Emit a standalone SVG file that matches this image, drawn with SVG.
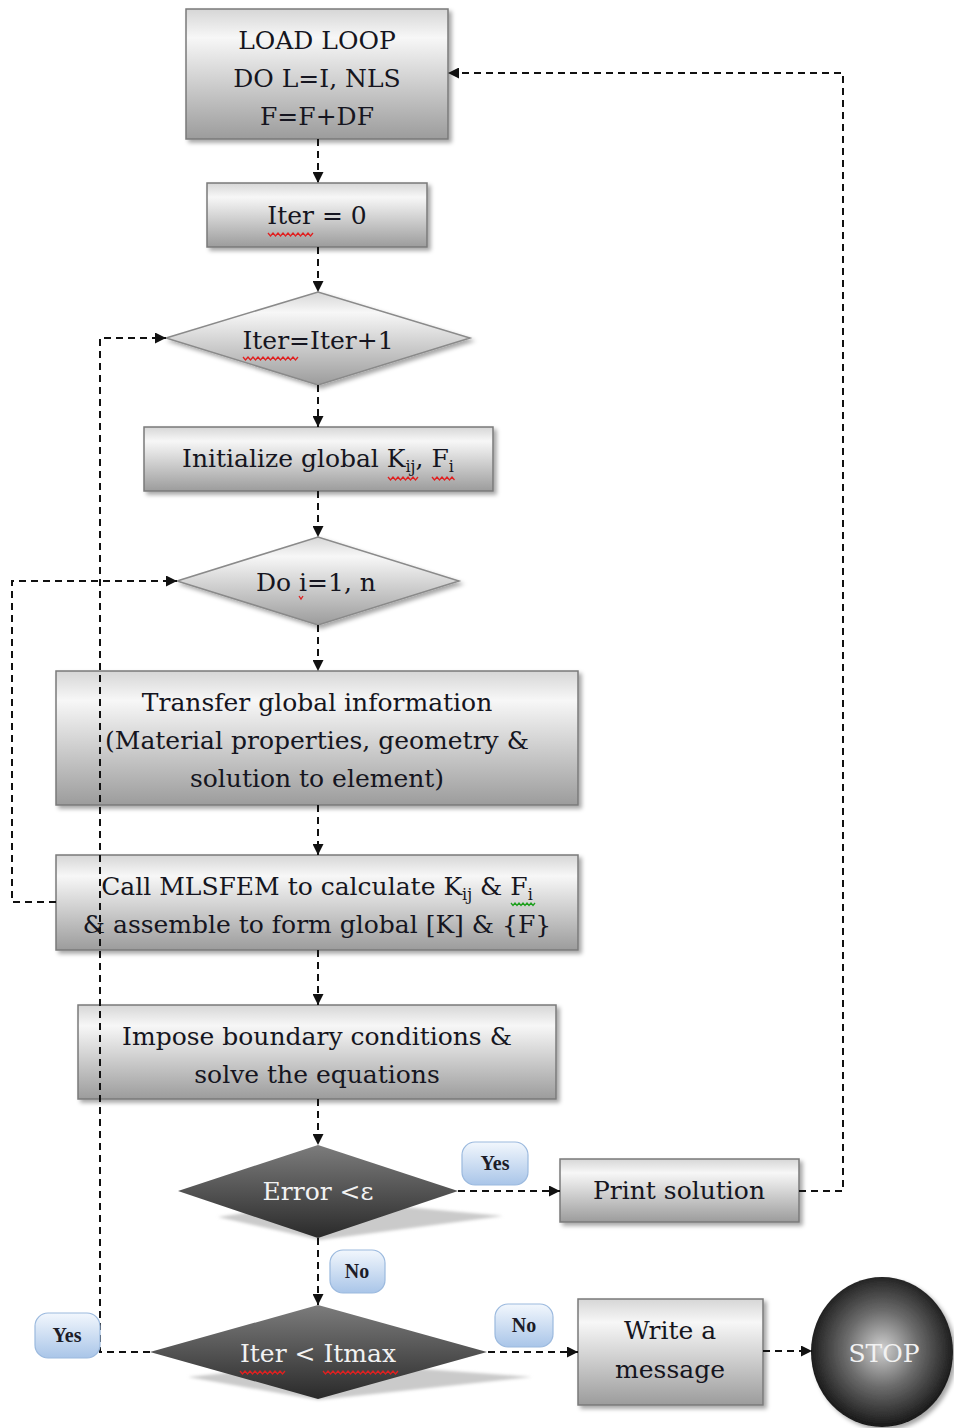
<svg xmlns="http://www.w3.org/2000/svg" width="954" height="1428" viewBox="0 0 954 1428">
<defs>
  <linearGradient id="gBox" x1="0" y1="0" x2="0" y2="1">
    <stop offset="0" stop-color="#d6d6d6"/>
    <stop offset="0.22" stop-color="#f7f7f7"/>
    <stop offset="1" stop-color="#9c9c9c"/>
  </linearGradient>
  <linearGradient id="gDark" x1="0" y1="0" x2="0" y2="1">
    <stop offset="0" stop-color="#7c7c7c"/>
    <stop offset="1" stop-color="#2a2a2a"/>
  </linearGradient>
  <linearGradient id="gLbl" x1="0" y1="0" x2="0" y2="1">
    <stop offset="0" stop-color="#f2f7fd"/>
    <stop offset="1" stop-color="#a9c5e8"/>
  </linearGradient>
  <radialGradient id="gStop" cx="0.5" cy="0.48" r="0.55">
    <stop offset="0" stop-color="#d0d0d0"/>
    <stop offset="0.45" stop-color="#6e6e6e"/>
    <stop offset="1" stop-color="#0e0e0e"/>
  </radialGradient>
  <filter id="sh" x="-10%" y="-10%" width="125%" height="130%">
    <feDropShadow dx="3" dy="3" stdDeviation="2" flood-color="#000" flood-opacity="0.35"/>
  </filter>
  <filter id="blur"><feGaussianBlur stdDeviation="1.5"/></filter>
  <marker id="ah" viewBox="0 0 10 10" refX="10" refY="5" markerWidth="11" markerHeight="11" markerUnits="userSpaceOnUse" orient="auto">
    <path d="M0,0 L10,5 L0,10 z" fill="#111"/>
  </marker>
  <style>
    .box{fill:url(#gBox);stroke:#7a7a7a;stroke-width:1.5;filter:url(#sh)}
    .dia{fill:url(#gBox);stroke:#8a8a8a;stroke-width:1.5}
    .dark{fill:url(#gDark);stroke:none}
    .dshadow{fill:#cacaca;filter:url(#blur)}
    .lbl{fill:url(#gLbl);stroke:#9bb9de;stroke-width:1.2}
    .t{font-family:"DejaVu Serif","Liberation Serif",serif;font-size:25px;fill:#151520;text-anchor:middle}
    .tw{font-family:"DejaVu Serif","Liberation Serif",serif;font-size:25px;fill:#f2f2f2;text-anchor:middle}
    .lt{font-family:"Liberation Serif",serif;font-size:20px;font-weight:bold;fill:#1c1c28;text-anchor:middle}
    .sub{font-size:16px}
    .c{fill:none;stroke:#111;stroke-width:2;stroke-dasharray:7 5}
    .ca{fill:none;stroke:#111;stroke-width:2;stroke-dasharray:7 5;marker-end:url(#ah)}
    .sq{fill:none;stroke:#e02020;stroke-width:1.3}
    .sqg{fill:none;stroke:#20a020;stroke-width:1.3}
  </style>
</defs>
<rect width="954" height="1428" fill="#ffffff"/>

<g id="n-loadloop">
  <rect class="box" x="186" y="9" width="262" height="130"/>
  <text class="t" x="317" y="49">LOAD LOOP</text>
  <text class="t" x="317" y="87">DO L=I, NLS</text>
  <text class="t" x="317" y="125">F=F+DF</text>
</g>

<g id="n-iter0">
  <rect class="box" x="207" y="183" width="220" height="64"/>
  <text class="t" x="317" y="224">Iter = 0</text>
  <path class="sq" d="M268,233 l2.5,3 l2.5,-3 l2.5,3 l2.5,-3 l2.5,3 l2.5,-3 l2.5,3 l2.5,-3 l2.5,3 l2.5,-3 l2.5,3 l2.5,-3 l2.5,3 l2.5,-3 l2.5,3 l2.5,-3 l2.5,3 l2.5,-3"/>
</g>

<g id="n-iterinc">
  <polygon class="dia" points="166,338 318,292 470,338 318,385" filter="url(#sh)"/>
  <text class="t" x="318" y="349">Iter=Iter+1</text>
  <path class="sq" d="M243,357 l2.5,3 l2.5,-3 l2.5,3 l2.5,-3 l2.5,3 l2.5,-3 l2.5,3 l2.5,-3 l2.5,3 l2.5,-3 l2.5,3 l2.5,-3 l2.5,3 l2.5,-3 l2.5,3 l2.5,-3 l2.5,3 l2.5,-3 l2.5,3 l2.5,-3 l2.5,3 l2.5,-3"/>
</g>

<g id="n-init">
  <rect class="box" x="144" y="427" width="349" height="64"/>
  <text class="t" x="318" y="467">Initialize global K<tspan class="sub" dy="5">ij</tspan><tspan dy="-5">, F</tspan><tspan class="sub" dy="5">i</tspan></text>
  <path class="sq" d="M388,477 l2.5,3 l2.5,-3 l2.5,3 l2.5,-3 l2.5,3 l2.5,-3 l2.5,3 l2.5,-3 l2.5,3 l2.5,-3 l2.5,3 l2.5,-3"/>
  <path class="sq" d="M432,477 l2.5,3 l2.5,-3 l2.5,3 l2.5,-3 l2.5,3 l2.5,-3 l2.5,3 l2.5,-3 l2.5,3"/>
</g>

<g id="n-doi">
  <polygon class="dia" points="177,581 318,537 459,581 318,625" filter="url(#sh)"/>
  <text class="t" x="316" y="591">Do i=1, n</text>
  <path class="sq" d="M299,596 l2,3 l2,-3"/>
</g>

<g id="n-transfer">
  <rect class="box" x="56" y="671" width="522" height="134"/>
  <text class="t" x="317" y="711">Transfer global information</text>
  <text class="t" x="317" y="749">(Material properties, geometry &amp;</text>
  <text class="t" x="317" y="787">solution to element)</text>
</g>

<g id="n-call">
  <rect class="box" x="56" y="855" width="522" height="95"/>
  <text class="t" x="317" y="895">Call MLSFEM to calculate K<tspan class="sub" dy="5">ij</tspan><tspan dy="-5"> &amp; F</tspan><tspan class="sub" dy="5">i</tspan></text>
  <path class="sqg" d="M511,903 l2,2.5 l2,-2.5 l2,2.5 l2,-2.5 l2,2.5 l2,-2.5 l2,2.5 l2,-2.5 l2,2.5 l2,-2.5 l2,2.5 l2,-2.5"/>
  <text class="t" x="317" y="933">&amp; assemble to form global [K] &amp; {F}</text>
</g>

<g id="n-impose">
  <rect class="box" x="78" y="1005" width="478" height="94"/>
  <text class="t" x="317" y="1045">Impose boundary conditions &amp;</text>
  <text class="t" x="317" y="1083">solve the equations</text>
</g>

<g id="n-error">
  <polygon class="dshadow" points="218,1217 330,1200 503,1216 320,1240"/>
  <polygon class="dark" points="178,1191 318,1145 458,1191 318,1238"/>
  <text class="tw" x="318" y="1200">Error &lt;ε</text>
</g>

<g id="n-print">
  <rect class="box" x="560" y="1159" width="239" height="63"/>
  <text class="t" x="679" y="1199">Print solution</text>
</g>

<g id="n-itermax">
  <polygon class="dshadow" points="188,1377 330,1362 532,1377 318,1400"/>
  <polygon class="dark" points="150,1352 318,1305 487,1352 318,1399"/>
  <text class="tw" x="318" y="1362">Iter &lt; Itmax</text>
  <path class="sq" d="M240,1371 l2.5,3 l2.5,-3 l2.5,3 l2.5,-3 l2.5,3 l2.5,-3 l2.5,3 l2.5,-3 l2.5,3 l2.5,-3 l2.5,3 l2.5,-3 l2.5,3 l2.5,-3 l2.5,3 l2.5,-3 l2.5,3 l2.5,-3"/>
  <path class="sq" d="M323,1371 l2.5,3 l2.5,-3 l2.5,3 l2.5,-3 l2.5,3 l2.5,-3 l2.5,3 l2.5,-3 l2.5,3 l2.5,-3 l2.5,3 l2.5,-3 l2.5,3 l2.5,-3 l2.5,3 l2.5,-3 l2.5,3 l2.5,-3 l2.5,3 l2.5,-3 l2.5,3 l2.5,-3 l2.5,3 l2.5,-3 l2.5,3 l2.5,-3 l2.5,3 l2.5,-3 l2.5,3 l2.5,-3"/>
</g>

<g id="n-write">
  <rect class="box" x="578" y="1299" width="185" height="106"/>
  <text class="t" x="670" y="1339">Write a</text>
  <text class="t" x="670" y="1378">message</text>
</g>

<g id="n-stop">
  <ellipse cx="882" cy="1352" rx="71" ry="75" fill="url(#gStop)" filter="url(#sh)"/>
  <text class="tw" x="884" y="1362" fill="#e6e6e6">STOP</text>
</g>

<g id="connectors">
  <path class="ca" d="M318,139 V183"/>
  <path class="ca" d="M318,247 V292"/>
  <path class="ca" d="M318,385 V427"/>
  <path class="ca" d="M318,491 V537"/>
  <path class="ca" d="M318,625 V671"/>
  <path class="ca" d="M318,805 V855"/>
  <path class="ca" d="M318,950 V1005"/>
  <path class="ca" d="M318,1099 V1145"/>
  <path class="ca" d="M318,1238 V1305"/>
  <path class="ca" d="M458,1191 H560"/>
  <path class="ca" d="M799,1191 H843 V73 H448"/>
  <path class="ca" d="M56,902 H12 V581 H177"/>
  <path class="ca" d="M150,1352 H100 V338 H166"/>
  <path class="ca" d="M488,1352 H578"/>
  <path class="ca" d="M763,1351 H812"/>
</g>

<g id="l-yes1">
  <rect class="lbl" x="462" y="1142" width="66" height="43" rx="13"/>
  <text class="lt" x="495" y="1170">Yes</text>
</g>
<g id="l-no1">
  <rect class="lbl" x="330" y="1250" width="55" height="43" rx="13"/>
  <text class="lt" x="357" y="1278">No</text>
</g>
<g id="l-yes2">
  <rect class="lbl" x="35" y="1313" width="65" height="45" rx="13"/>
  <text class="lt" x="67" y="1342">Yes</text>
</g>
<g id="l-no2">
  <rect class="lbl" x="495" y="1304" width="58" height="43" rx="13"/>
  <text class="lt" x="524" y="1332">No</text>
</g>
</svg>
